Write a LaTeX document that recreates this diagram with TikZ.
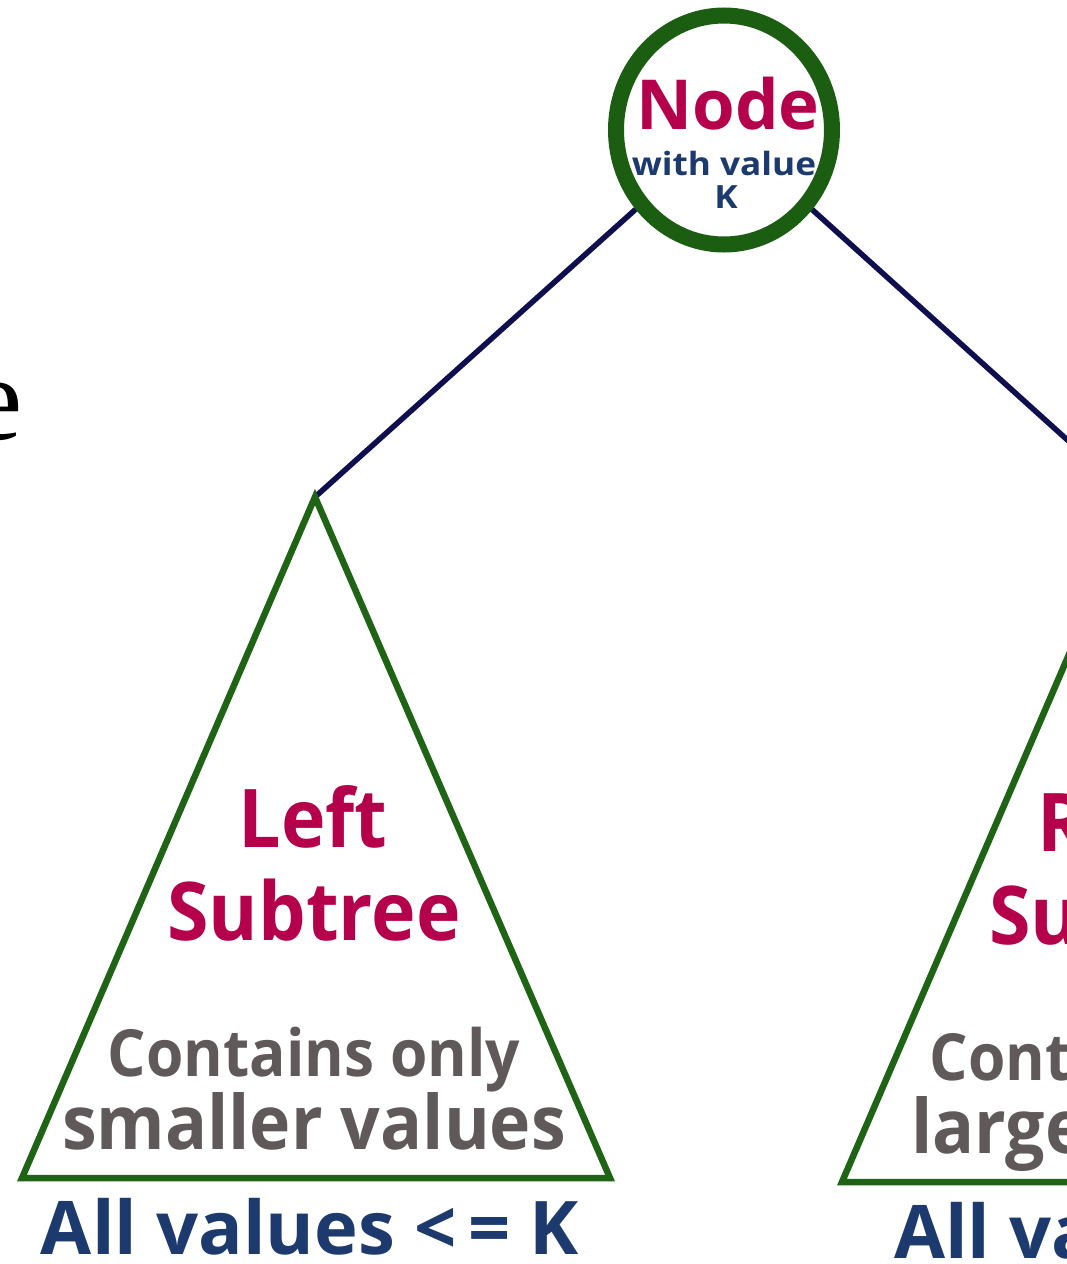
\documentclass[tikz,border=0pt]{standalone}
\usepackage{fontspec}
\newfontfamily\osans{Open Sans}
\newfontfamily\osansn[FakeStretch=0.93]{Open Sans}
\newfontfamily\osansw[FakeStretch=1.1]{Open Sans}
\newfontfamily\serifx{Liberation Serif}
\usetikzlibrary{shapes.geometric}
\definecolor{crim}{HTML}{B5004B}
\definecolor{navy}{HTML}{1C3A6E}
\definecolor{greytx}{HTML}{5F595A}
\definecolor{treegreen}{HTML}{1E6414}
\definecolor{circgreen}{HTML}{1B5E12}
\definecolor{edgecol}{HTML}{0F0F4F}
\tikzset{
  txt/.style={inner sep=0pt, anchor=base},
  title/.style={txt, text=crim, font=\osansn\bfseries\fontsize{81}{81}\selectfont},
  descA/.style={txt, text=greytx, font=\osansn\bfseries\fontsize{65}{65}\selectfont},
  descB/.style={txt, text=greytx, font=\osansn\bfseries\fontsize{75}{75}\selectfont},
  foot/.style={txt, text=navy, font=\osans\bfseries\fontsize{74}{74}\selectfont},
  tri/.style={draw=treegreen, line width=6.5pt, line join=miter},
  edge/.style={draw=edgecol, line width=5.5pt},
  rootnode/.style={ellipse, draw=circgreen, line width=16pt, minimum width=216pt, minimum height=229pt, inner sep=0pt}
}
\begin{document}
\begin{tikzpicture}[x=1pt,y=-1pt]
\useasboundingbox (0,0) rectangle (1067,1264);
\clip (0,0) rectangle (1067,1264);
\fill[white] (0,0) rectangle (1067,1264);
% partial heading letter
\node[inner sep=0pt, anchor=base east, font=\serifx\fontsize{120}{120}\selectfont] (head) at (23,439) {e};
% root
\node[rootnode] (root) at (724,130) {};
\node[txt, text=crim, font=\osans\bfseries\fontsize{69}{69}\selectfont] (rootT) at (728,129) {Node};
\node[txt, text=navy, font=\osansw\bfseries\fontsize{32}{32}\selectfont] (rootW) at (724,175) {with value};
\node[txt, text=navy, font=\osansw\bfseries\fontsize{32}{32}\selectfont] (rootK) at (726,208) {K};
% subtrees
\coordinate (lapex) at (315,497);
\coordinate (rapex) at (1135,501);
\draw[edge] (root) -- (lapex);
\draw[edge] (root) -- (rapex);
\draw[tri] (lapex) -- (22,1178) -- (610,1178) -- cycle;
\draw[tri] (rapex) -- (842,1182) -- (1428,1182) -- cycle;
% left texts
\node[title] (lt1) at (313,847) {Left};
\node[title] (lt2) at (314,940) {Subtree};
\node[descA] (ld1) at (314,1076) {Contains only};
\node[descB] (ld2) at (314,1149) {smaller values};
\node[foot] (lf) at (310,1254) {All values <\kern12pt= K};
% right texts
\node[title] (rt1) at (1136,851) {Right};
\node[title] (rt2) at (1136,944) {Subtree};
\node[descA] (rd1) at (1136,1080) {Contains only};
\node[descB] (rd2) at (1136,1153) {larger values};
\node[foot] (rf) at (1136,1258) {All values > K};
\end{tikzpicture}
\end{document}
